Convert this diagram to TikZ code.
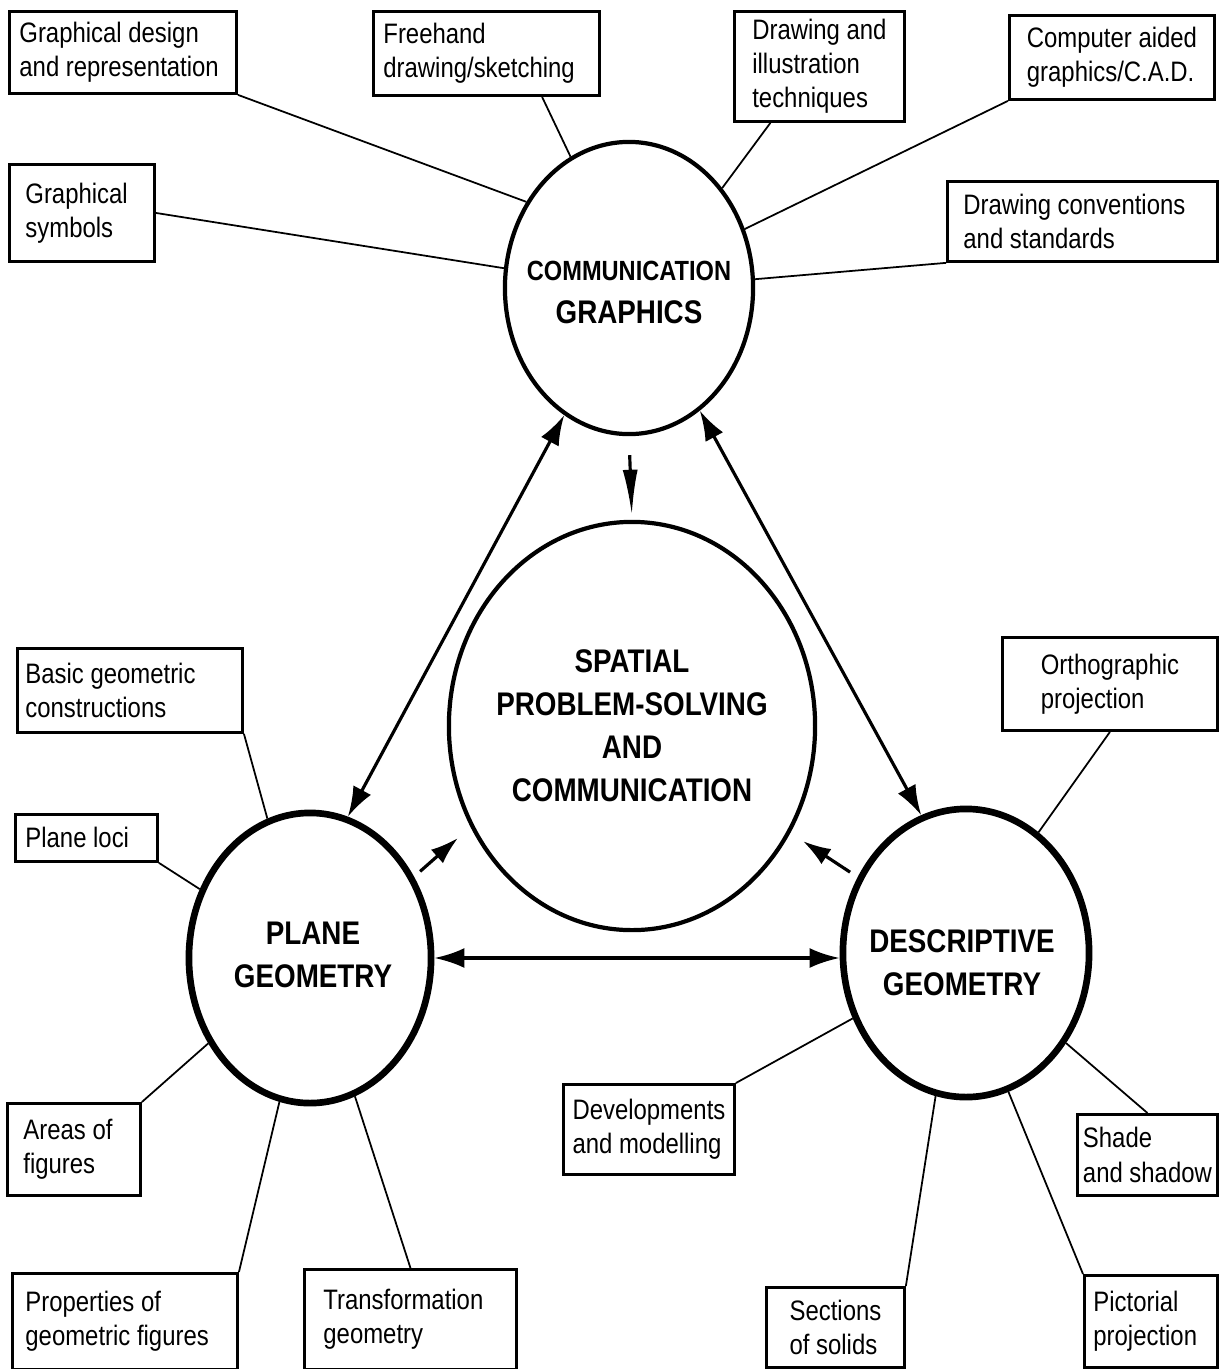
\documentclass[tikz,border=0pt]{standalone}
\usepackage{fontspec}
\setmainfont[FakeStretch=0.85]{Liberation Sans}
\usetikzlibrary{shapes.geometric, arrows.meta}

\tikzset{
    topic/.style={draw, line width=0.8pt, anchor=north west, align=flush left,
        inner sep=0pt, font=\fontsize{8}{9.7}\selectfont},
    hub/.style={draw, ellipse, inner sep=0pt},
    hubtext/.style={align=center, font=\bfseries\fontsize{9.3}{12.2}\selectfont},
    spoke/.style={line width=0.5pt},
    link/.style={{Latex[length=3mm,width=2mm]}-{Latex[length=3mm,width=2mm]}, line width=0.9pt},
    flow/.style={-{Latex[length=2.8mm,width=1.8mm]}, line width=0.9pt}
}

\begin{document}
\begin{tikzpicture}[x=0.01cm, y=-0.01cm]
            \useasboundingbox (0,0) rectangle (1219,1369);

            % the four ellipses
            \node[hub, line width=1.2pt, minimum width=2.48cm, minimum height=2.92cm,
                label={[hubtext, yshift=-0.04cm]center:{\fontsize{7.9}{9.5}\selectfont COMMUNICATION}\\GRAPHICS}] (cg) at (629,288) {};
            \node[hub, line width=1.2pt, minimum width=3.66cm, minimum height=4.08cm,
                label={[hubtext]center:SPATIAL\\PROBLEM-SOLVING\\AND\\COMMUNICATION}] (sp) at (632,726) {};
            \node[hub, line width=1.9pt, minimum width=2.42cm, minimum height=2.90cm,
                label={[hubtext, xshift=0.03cm, yshift=0.03cm]center:PLANE\\GEOMETRY}] (pg) at (310,958) {};
            \node[hub, line width=1.9pt, minimum width=2.46cm, minimum height=2.88cm,
                label={[hubtext, yshift=-0.1cm, xshift=-0.04cm]center:DESCRIPTIVE\\GEOMETRY}] (dg) at (966,953) {};

            % boxes round communication graphics
            \node[topic, inner xsep=0.10cm, text width=2.07cm, minimum height=0.82cm] (gd) at (8,10) {Graphical design\\and representation};
            \node[topic, inner xsep=0.10cm, text width=2.06cm, minimum height=0.84cm] (fh) at (372,10) {Freehand\\drawing/sketching};
            \node[topic, minimum width=1.70cm, minimum height=1.10cm] (di) at (733,10) {Drawing and\\illustration\\techniques};
            \node[topic, minimum width=2.05cm, minimum height=0.84cm] (cad) at (1008,14) {Computer aided\\graphics/C.A.D.};
            \node[topic, inner xsep=0.16cm, text width=1.13cm, minimum height=0.97cm] (gs) at (8,163) {Graphical\\symbols};
            \node[topic, inner xsep=0.16cm, text width=2.38cm, minimum height=0.80cm] (dc) at (946,180) {Drawing conventions\\and standards};

            % boxes round plane geometry
            \node[topic, inner xsep=0.08cm, text width=2.09cm, minimum height=0.84cm] (bg) at (16,647) {Basic geometric\\constructions};
            \node[topic, inner xsep=0.10cm, text width=1.22cm, minimum height=0.47cm] (pl) at (14,813) {Plane loci};
            \node[topic, inner xsep=0.16cm, text width=1.01cm, minimum height=0.92cm] (af) at (6,1102) {Areas of\\figures};
            \node[topic, inner xsep=0.13cm, text width=1.99cm, minimum height=0.96cm] (pf) at (11,1272) {Properties of\\geometric figures};
            \node[topic, inner xsep=0.19cm, text width=1.74cm, minimum height=1.00cm] (tg) at (303,1268) {Transformation\\geometry};

            % boxes round descriptive geometry
            \node[topic, minimum width=2.15cm, minimum height=0.93cm] (op) at (1001,636) {Orthographic\\projection};
            \node[topic, minimum width=1.71cm, minimum height=0.90cm] (dm) at (562,1083) {Developments\\and modelling};
            \node[topic, minimum width=1.40cm, minimum height=0.81cm] (ss) at (1076,1113) {Shade\\and shadow};
            \node[topic, minimum width=1.38cm, minimum height=0.80cm] (so) at (765,1286) {Sections\\of solids};
            \node[topic, inner xsep=0.09cm, text width=1.15cm, minimum height=0.92cm] (pp) at (1083,1274) {Pictorial\\projection};

            % spokes
            \draw[spoke] (gd.south east) -- (cg.140);
            \draw[spoke] (fh.-38) -- (cg.114);
            \draw[spoke] (di.229) -- (cg.47);
            \draw[spoke] (cad.south west) -- (cg.27);
            \draw[spoke] (gs.east) -- (cg.171);
            \draw[spoke] (dc.south west) -- (cg.4);

            \draw[spoke] (bg.south east) -- (pg.107);
            \draw[spoke] (pl.south east) -- (pg.148);
            \draw[spoke] (af.north east) -- (pg.220);
            \draw[spoke] (pf.north east) -- (pg.258);
            \draw[spoke] (tg.north) -- (pg.288);

            \draw[spoke] (op.south) -- (dg.59);
            \draw[spoke] (dm.north east) -- (dg.210);
            \draw[spoke] (ss.north) -- (dg.318);
            \draw[spoke] (so.north east) -- (dg.258);
            \draw[spoke] (pp.north west) -- (dg.287);

            % arrows
            \draw[link] (cg.243) -- (pg.75);
            \draw[link] (cg.300) -- (dg.108);
            \draw[link] (pg.east) -- (pg.east -| dg.west);

            \draw[-{Latex[length=4.5mm,width=1.5mm]}, line width=0.9pt, shorten <=0.19cm, shorten >=0.05cm] (cg.south) -- (sp.north);
            \draw[flow, shorten <=0.08cm, shorten >=0.165cm] (pg.38) -- (sp.212);
            \draw[flow, shorten <=0.09cm, shorten >=0.15cm] (dg.145) -- (sp.326);

        \end{tikzpicture}
\end{document}
